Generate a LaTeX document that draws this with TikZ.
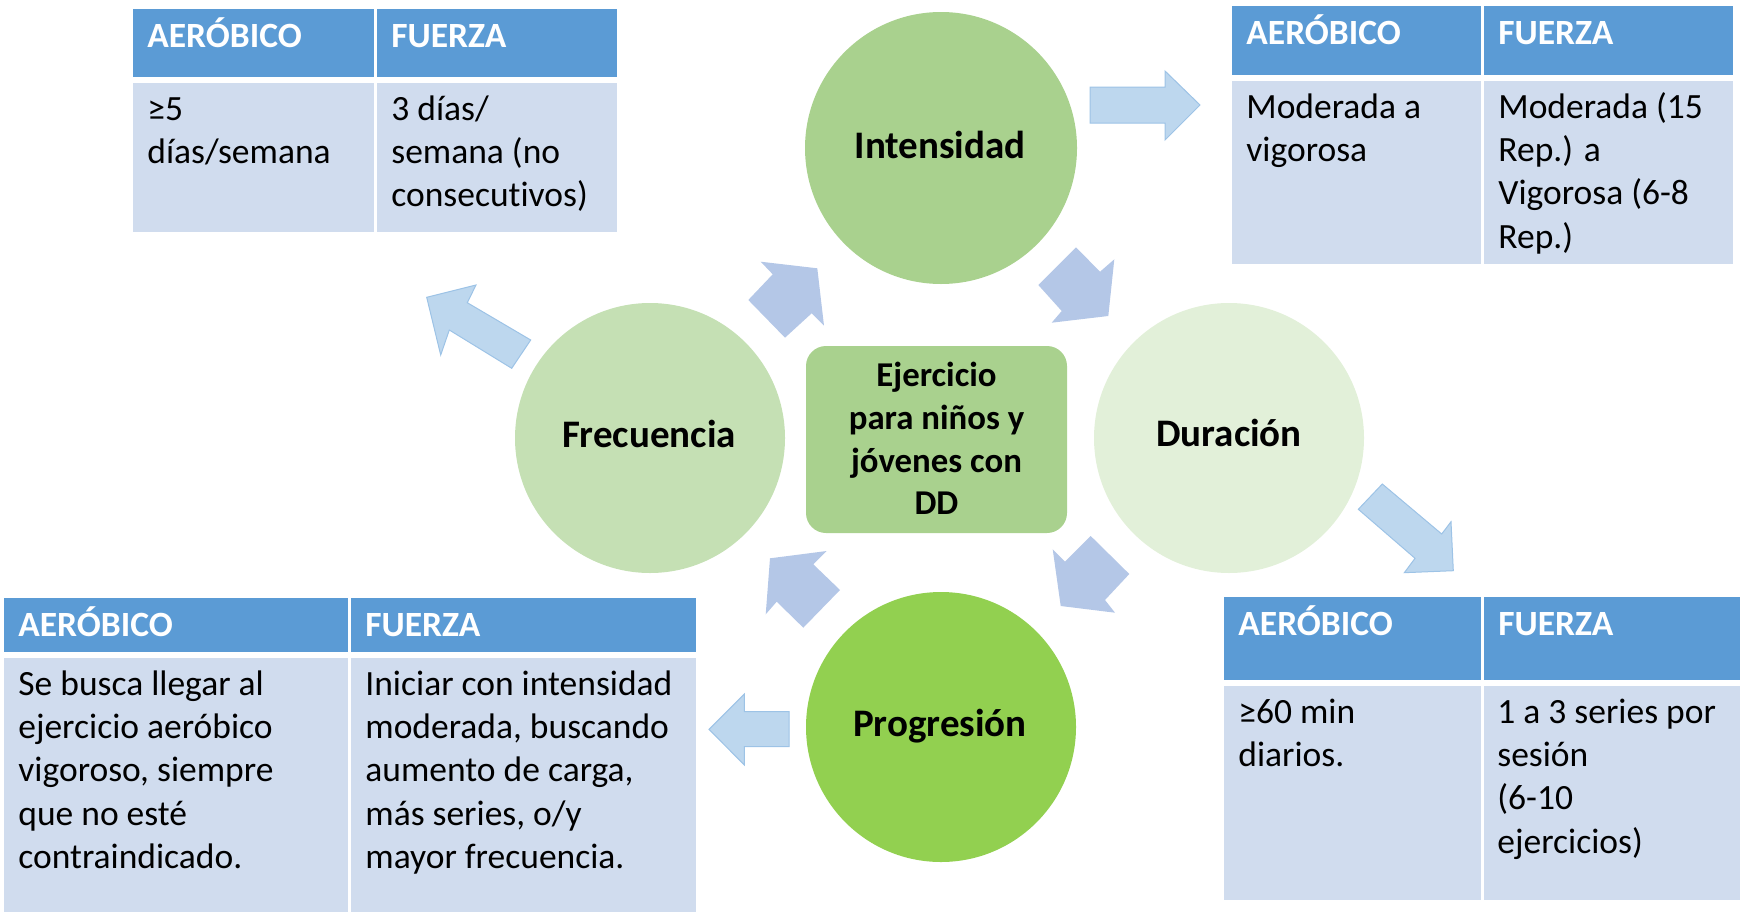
\documentclass[tikz,border=0pt]{standalone}
\usepackage{fontspec}
\setmainfont{Carlito}[Ligatures=NoCommon]
\definecolor{hdr}{HTML}{5B9BD5}
\definecolor{bdy}{HTML}{D0DCEE}
\definecolor{cint}{HTML}{A9D18E}
\definecolor{cfre}{HTML}{C5E0B4}
\definecolor{cdur}{HTML}{E2F0D9}
\definecolor{cpro}{HTML}{92D050}
\definecolor{arrA}{HTML}{BDD7EE}
\definecolor{arrAline}{HTML}{9DC3E6}
\definecolor{arrB}{HTML}{B4C7E7}
\newcommand\bodyfont{\fontsize{17.75}{21.7}\selectfont}
\newcommand\celltext[1]{\parbox[t]{200pt}{\raggedright\bodyfont #1}}
\newcommand\mktbl[7]{%
  \fill[hdr] (#1,#4) rectangle (#3,#5);
  \fill[bdy] (#1,#5) rectangle (#3,#6);
  \draw[white, line width=3pt] (#1,#5) -- (#3,#5);
  \draw[white, line width=1.5pt] (#2,#4) -- (#2,#6);
  \node[hd] (#7ha) at (#1+14,#4+38) {AERÓBICO};
  \node[hd] (#7hf) at (#2+16,#4+38) {FUERZA};
}
\tikzset{
  circ/.style={circle, inner sep=0pt},
  lbl/.style={inner sep=0pt, font=\fontsize{19.5}{23}\selectfont\bfseries},
  hd/.style={anchor=base west, inner sep=0pt, text=white, font=\fontsize{17.75}{21.7}\selectfont\bfseries},
  bd/.style={anchor=base west, inner sep=0pt},
  arrowA/.style={fill=arrA, draw=arrAline, line width=0.5pt, line join=miter},
  arrowB/.style={fill=arrB, draw=none},
}
\begin{document}
\begin{tikzpicture}[x=0.5pt, y=-0.5pt]
\useasboundingbox (0,0) rectangle (1744,921);
% circles
\node[circ, fill=cint, minimum size=136pt] (int) at (941,148) {};
\node[circ, fill=cfre, minimum size=135pt] (fre) at (650,438) {};
\node[circ, fill=cdur, minimum size=135pt] (dur) at (1229,438) {};
\node[circ, fill=cpro, minimum size=135pt] (pro) at (941,727) {};
\node[lbl] (intl) at (940,145) {Intensidad};
\node[lbl] (frel) at (649,434) {Frecuencia};
\node[lbl] (durl) at (1229,433) {Duración};
\node[lbl] (prol) at (940,726) {Progresión};
% center box
\node[fill=cint, rounded corners=10pt, minimum width=130.5pt, minimum height=93.5pt, inner sep=0pt] (ctr) at (936.5,439.5) {};
\node[align=center, inner sep=0pt, font=\fontsize{17.4}{21.4}\selectfont\bfseries] (ctrtxt) at (936.5,438.5) {Ejercicio\\para niños y\\jóvenes con\\DD};
% cycle arrows
\fill[arrowB] (1038.3,285) -- (1076,247.3) -- (1100,271.7) -- (1114.3,259.3) -- (1108.3,316) -- (1051.7,322.7) -- (1061.7,311) -- cycle;
\fill[arrowB] (1052.7,549.3) -- (1065,561.7) -- (1090.7,536) -- (1129.3,574) -- (1105,600) -- (1115,612.7) -- (1060.7,606) -- cycle;
\fill[arrowB] (770,558.3) -- (826.7,551) -- (813.3,564.3) -- (840,590) -- (803.3,627.7) -- (776.7,601.7) -- (765.7,614.3) -- cycle;
\fill[arrowB] (760.7,261.7) -- (817.3,268.3) -- (824,325.7) -- (811.7,313.3) -- (785,337.7) -- (748.3,300) -- (772.7,274.3) -- cycle;
% outward arrows
\filldraw[arrowA] (1090,87) -- (1165,87) -- (1165,71) -- (1200,105) -- (1165,140) -- (1165,123) -- (1090,123) -- cycle;
\filldraw[arrowA] (426.7,297.3) -- (476,285) -- (467.3,302.7) -- (530.7,340) -- (511.7,368.3) -- (449.3,330) -- (440.7,355) -- cycle;
\filldraw[arrowA] (1358.3,509.3) -- (1382.3,484) -- (1441.7,534) -- (1451,521.7) -- (1453.3,570.7) -- (1404.3,572.7) -- (1415,558.3) -- cycle;
\filldraw[arrowA] (709,729.3) -- (744.3,694) -- (744.3,711.7) -- (789,711.7) -- (789,746.7) -- (744.3,746.7) -- (744.3,765) -- cycle;
% tables
\mktbl{133}{375}{617}{9}{80}{232}{tl}
\node[bd] (tla) at (147,120) {\celltext{≥5\\días/semana}};
\node[bd] (tlf) at (391,120) {\celltext{3 días/\\semana (no\\consecutivos)}};
\mktbl{1232}{1482}{1733}{6}{78}{264}{tr}
\node[bd] (tra) at (1246,118) {\celltext{Moderada a\\vigorosa}};
\node[bd] (trf) at (1498,118) {\celltext{Moderada (15\\Rep.) a\\Vigorosa (6-8\\Rep.)}};
\mktbl{4}{349}{696}{598}{654.5}{912}{bl}
\node[bd] (bla) at (18,695) {\celltext{Se busca llegar al\\ejercicio aeróbico\\vigoroso, siempre\\que no esté\\contraindicado.}};
\node[bd] (blf) at (365,695) {\celltext{Iniciar con intensidad\\moderada, buscando\\aumento de carga,\\más series, o/y\\mayor frecuencia.}};
\mktbl{1224}{1482}{1740}{597}{683}{900}{br}
\node[bd] (bra) at (1238,723) {\celltext{≥60 min\\diarios.}};
\node[bd] (brf) at (1497,723) {\celltext{1 a 3 series por\\sesión\\(6-10\\ejercicios)}};
\end{tikzpicture}
\end{document}
